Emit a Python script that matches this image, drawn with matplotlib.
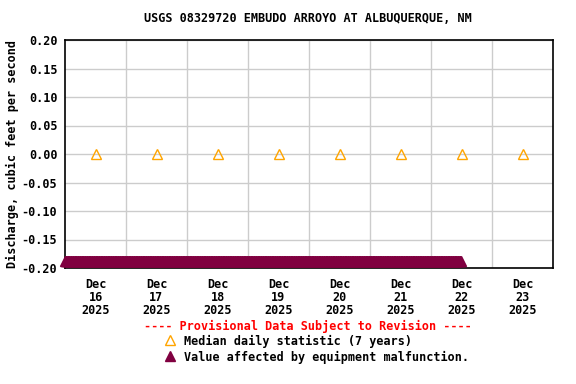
import numpy as np
import pandas as pd
import matplotlib
matplotlib.use('Agg')
import matplotlib.pyplot as plt

plt.rcParams['font.family'] = ['DejaVu Sans Mono']
plt.rcParams['font.weight'] = 'bold'
plt.rcParams['font.size'] = 8.45

# median daily statistic, plotted at noon of each day
median_days = pd.date_range('2025-12-16 12:00', '2025-12-23 12:00', freq='D')
median_vals = [0.00, 0.00, 0.00, 0.00, 0.00, 0.00, 0.00, 0.00]

# 15-minute values flagged as equipment malfunction (drawn at bottom of graph)
malf_start = '2025-12-16 00:00'
malf_end = '2025-12-22 11:45'
malf_value = -0.188
malf_times = pd.date_range(malf_start, malf_end, freq='15min')
malf_vals = np.full(len(malf_times), malf_value)

yticks = [0.20, 0.15, 0.10, 0.05, 0.00, -0.05, -0.10, -0.15, -0.20]

maroon = '#800040'
orange = '#FFA500'

fig = plt.figure(figsize=(5.76, 3.84), dpi=100)
ax = fig.add_axes([65/576, 1-268/384, 488/576, 228/384])

ax.plot(malf_times, malf_vals, linestyle='none', marker='^', ms=6.5,
        color=maroon, mec=maroon, clip_on=False, zorder=3)
ax.plot(median_days, median_vals, linestyle='none', marker='^', ms=7.5,
        mfc='none', mec=orange, mew=1.0, zorder=4)

ax.set_xlim(pd.Timestamp('2025-12-16'), pd.Timestamp('2025-12-24'))
ax.set_ylim(-0.20, 0.20)
ax.set_yticks(yticks)
ax.set_yticklabels(['%.2f' % v for v in yticks])

# gridlines at midnight, labels at noon
ax.set_xticks(pd.date_range('2025-12-17', '2025-12-23', freq='D'), minor=True)
ax.set_xticks(median_days)
ax.set_xticklabels([d.strftime('%b\n%d\n%Y') for d in median_days], linespacing=1.0)
ax.grid(True, which='minor', axis='x', color='#cccccc', lw=1)
ax.grid(True, which='major', axis='y', color='#cccccc', lw=1)
ax.tick_params(which='both', length=0)
ax.tick_params(axis='x', pad=7)
ax.tick_params(axis='y', pad=5.5)
for s in ax.spines.values():
    s.set_linewidth(1.2)
ax.set_axisbelow(True)

fig.text(12/576, 1-154/384, 'Discharge, cubic feet per second',
         rotation=90, ha='center', va='center')
fig.text(308/576, 1-19/384, 'USGS 08329720 EMBUDO ARROYO AT ALBUQUERQUE, NM',
         ha='center', va='center')

# legend block under the chart
fig.text(308/576, 1-326/384, '---- Provisional Data Subject to Revision ----',
         ha='center', va='center', color='red')
fig.lines.append(plt.Line2D([170/576], [1-340/384], transform=fig.transFigure,
                            marker='^', ms=7.5, mfc='none', mec=orange, ls='none'))
fig.text(184/576, 1-341/384, 'Median daily statistic (7 years)', ha='left', va='center')
fig.lines.append(plt.Line2D([170/576], [1-356/384], transform=fig.transFigure,
                            marker='^', ms=7.5, color=maroon, ls='none'))
fig.text(184/576, 1-357/384, 'Value affected by equipment malfunction.', ha='left', va='center')

fig.savefig('out.png', dpi=100)
